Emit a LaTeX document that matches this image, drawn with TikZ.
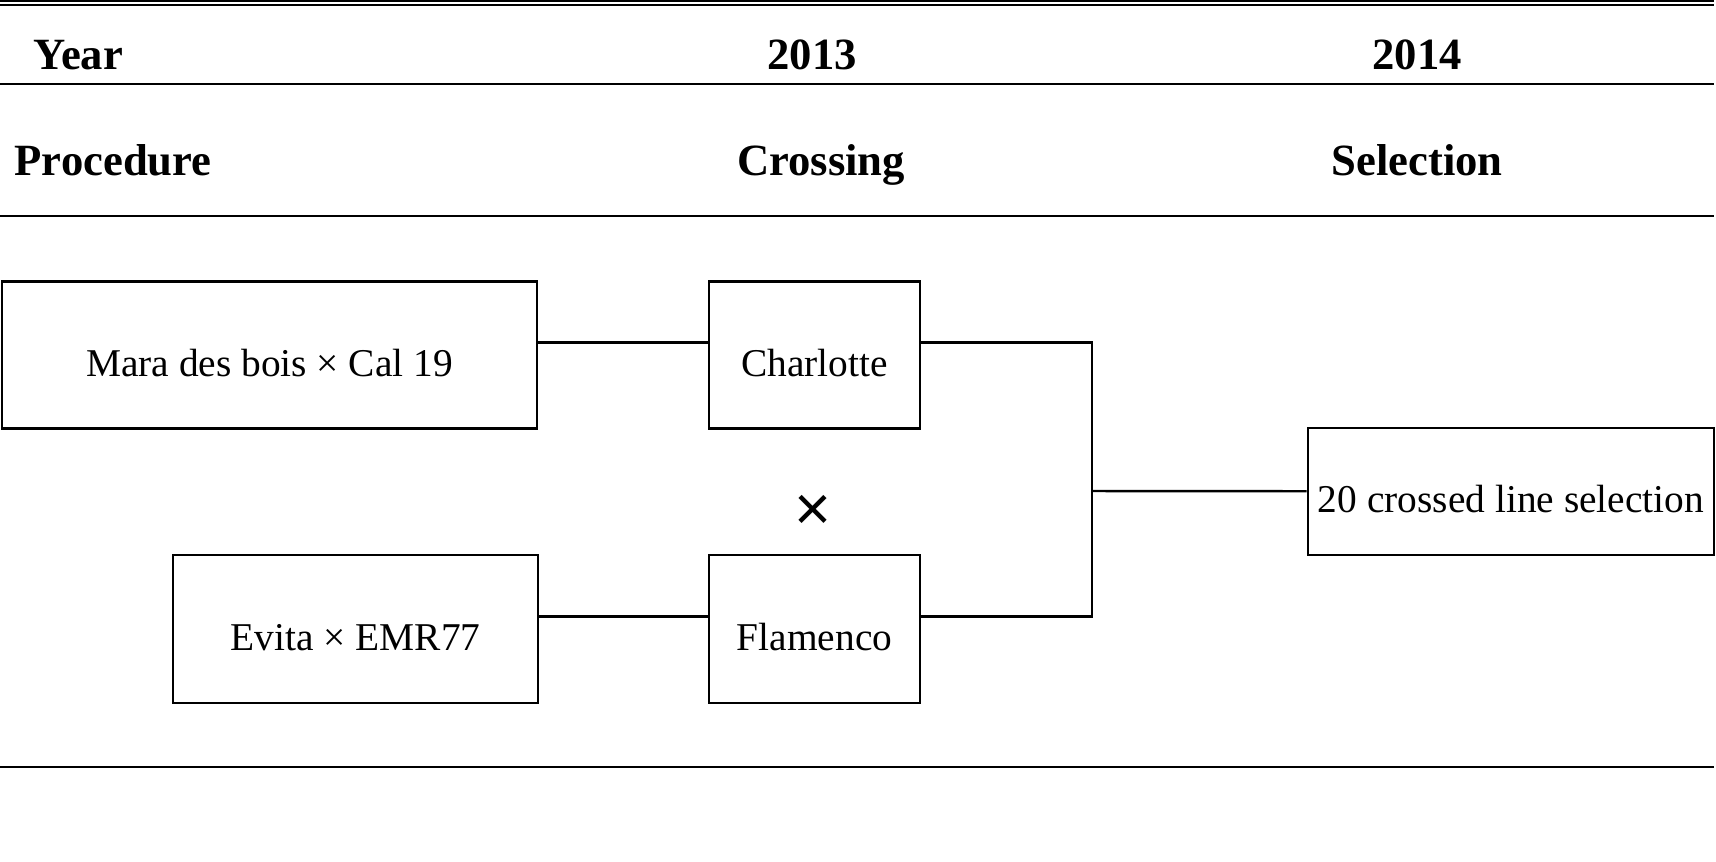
\documentclass[tikz,border=0pt]{standalone}
\usepackage{fontspec}
\setmainfont{Liberation Serif}
\newfontfamily\symfont{Liberation Sans}
\usetikzlibrary{positioning}

\begin{document}
\begin{tikzpicture}[x=0.01cm,y=-0.01cm,
  box/.style={draw,line width=0.7pt,inner sep=0pt,text height=12pt,text depth=0pt,font=\fontsize{11.2}{13}\selectfont},
  head/.style={anchor=base,inner sep=0pt,font=\fontsize{12.7}{15}\selectfont\bfseries},
  rule/.style={line width=0.75pt},
  link/.style={line width=0.7pt}]
  \useasboundingbox (0,0) rectangle (1716,861);
  % table rules
  \draw[double,double distance=0.7pt,line width=0.6pt] (0,3) -- (1714,3);
  \draw[rule] (0,84) -- (1714,84);
  \draw[rule] (0,216) -- (1714,216);
  \draw[rule] (0,767) -- (1714,767);
  % header
  \node[head,anchor=base west] (year) at (33,70) {Year};
  \node[head] (y13) at (812,70) {2013};
  \node[head] (y14) at (1417,70) {2014};
  \node[head,anchor=base west] (proc) at (14,176) {Procedure};
  \node[head] (cross) at (821,176) {Crossing};
  \node[head] (select) at (1417,176) {Selection};
  % crossing scheme
  \node[box,minimum width=5.35cm,minimum height=1.47cm] (mara) at (269.5,355) {Mara des bois × Cal 19};
  \node[box,minimum width=2.11cm,minimum height=1.47cm] (charl) at (814.5,355) {Charlotte};
  \node[box,minimum width=3.65cm,minimum height=1.48cm] (evita) at (355.5,629) {Evita × EMR77};
  \node[box,minimum width=2.11cm,minimum height=1.48cm] (flam) at (814.5,629) {Flamenco};
  \node[box,minimum width=4.06cm,minimum height=1.27cm] (sel) at (1511,491.5) {20 crossed line selection};
  \node[font=\symfont\fontsize{18}{20}\selectfont] (times) at (813,513) {×};
  \coordinate (jn) at (1092,491);
  \draw[link] ([yshift=3.5pt]mara.east) -- ([yshift=3.5pt]charl.west);
  \draw[link] ([yshift=3.5pt]evita.east) -- ([yshift=3.5pt]flam.west);
  \draw[link] ([yshift=3.5pt]charl.east) -| (jn);
  \draw[link] ([yshift=3.5pt]flam.east) -| (jn);
  \draw[link] (jn) -- (sel);
\end{tikzpicture}
\end{document}
